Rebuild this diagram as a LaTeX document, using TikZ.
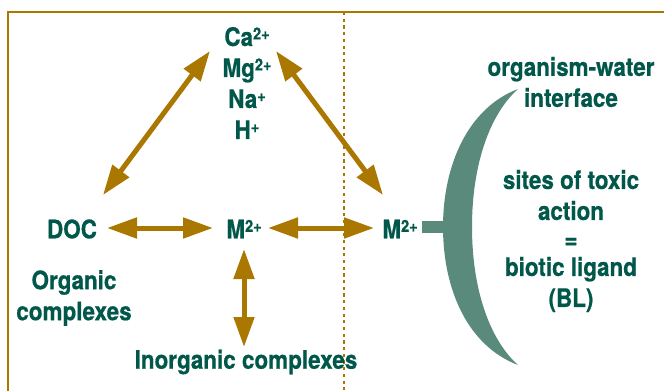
\documentclass[tikz,border=0pt]{standalone}
\usepackage{fontspec}
\setmainfont{TeX Gyre Heros}[FakeStretch=0.88, BoldFeatures={FakeBold=0.6}]
\usetikzlibrary{arrows.meta}
\definecolor{gold}{HTML}{AA7700}
\definecolor{txt}{HTML}{00574A}
\definecolor{brk}{HTML}{5A8A7B}
\tikzset{
  lbl/.style={text=txt, font=\bfseries\fontsize{25.5}{31}\selectfont, inner sep=0pt, align=center},
  arr/.style={draw=gold, line width=5pt, {Triangle[length=30pt,width=20pt]}-{Triangle[length=30pt,width=20pt]}},
  frame/.style={draw=gold, line width=2.5pt},
}
\newcommand{\sups}[1]{\raisebox{6.5pt}{\fontsize{16.5}{16.5}\selectfont #1}}
\begin{document}
\begin{tikzpicture}[x=1pt,y=-1pt]
\useasboundingbox (0,0) rectangle (664,391);
% frame
\draw[frame] (8,391) -- (8,12) -- (664,12);
\draw[draw=gold, line width=2.8pt, dash pattern=on 3.2pt off 3.5pt] (344,12) -- (344,391);
% ions
\node[lbl] (ions) at (247,83) {Ca\sups{2+}\\Mg\sups{2+}\\Na\sups{+}\\H\sups{+}};
% nodes
\node[lbl] (doc) at (72,229) {DOC};
\node[lbl] (m1) at (244,229) {M\sups{2+}};
\node[lbl] (m2) at (400,229) {M\sups{2+}};
\node[lbl] (org) at (74,298) {Organic\\complexes};
\node[lbl] (inorg) at (246,362) {Inorganic complexes};
\node[lbl] (iface) at (571,82) {organism-water\\interface};
\node[lbl, font=\bfseries\fontsize{25.5}{28}\selectfont] (sites) at (571,241) {sites of toxic\\[3pt]action\\=\\biotic ligand\\[3pt](BL)};
% anchor coordinates for arrows
\coordinate (dl) at (103,195);
\coordinate (dt) at (210,51);
\coordinate (rt) at (276,51);
\coordinate (rb) at (383,195);
\coordinate (h1a) at (107,228);
\coordinate (h1b) at (213,228);
\coordinate (h2a) at (268,228);
\coordinate (h2b) at (374,228);
\coordinate (va) at (244,249);
\coordinate (vb) at (244,347);
\draw[arr] (dl) -- (dt);
\draw[arr] (rt) -- (rb);
\draw[arr] (h1a) -- (h1b);
\draw[arr] (h2a) -- (h2b);
\draw[arr] (va) -- (vb);
% biotic ligand bracket
\fill[brk] (422,221) rectangle (446,233);
\fill[brk] (518,89) .. controls (468,108) and (443,165) .. (443,227)
  .. controls (443,290) and (468,346) .. (518,365)
  .. controls (490,340) and (472,290) .. (472,227)
  .. controls (472,164) and (490,114) .. cycle;
\end{tikzpicture}
\end{document}
